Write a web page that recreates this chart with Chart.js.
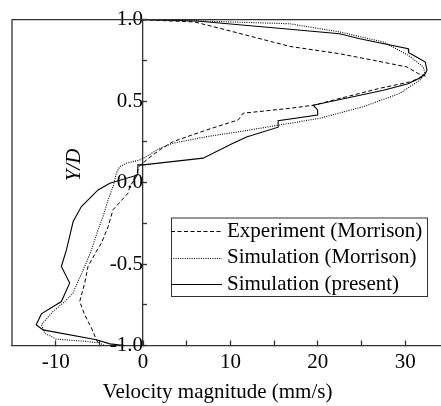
<!DOCTYPE html>
<html><head><meta charset="utf-8">
<script src="https://cdn.jsdelivr.net/npm/chart.js@4"></script>
<style>html,body{margin:0;padding:0;background:#fff;overflow:hidden}#wrap{width:441px;height:406px}</style>
</head><body><div id="wrap"><canvas id="c" width="441" height="406"></canvas></div>
<script>
const seriesNames = ['Experiment (Morrison)', 'Simulation (Morrison)', 'Simulation (present)'];
// Experiment (Morrison): Y/D and velocity (mm/s)
const expY = [1.0, 0.986, 0.947, 0.836, 0.791, 0.751, 0.710, 0.669, 0.655, 0.618, 0.579, 0.475, 0.456, 0.426, 0.385, 0.323, 0.252, 0.201, 0.139, 0.098, 0.037, -0.025, -0.065, -0.167, -0.270, -0.372, -0.413, -0.515, -0.617, -0.730, -0.812, -0.893, -0.965, -0.996];
const expV = [0, 5.9, 8.8, 16.8, 22.5, 26.35, 30.2, 31.5, 32.3, 30.55, 27.1, 19.5, 16.8, 11.45, 10.9, 7.26, 3.44, 1.9, 0.39, -0.5, -0.76, -1.52, -1.72, -3.44, -4.0, -4.77, -5.25, -6.3, -6.68, -7.25, -6.68, -5.9, -5.34, -4.96];
// Simulation (Morrison)
const simY = [1.0, 1.0, 0.975, 0.925, 0.863, 0.782, 0.710, 0.669, 0.630, 0.548, 0.466, 0.395, 0.354, 0.313, 0.282, 0.242, 0.211, 0.160, 0.139, 0.119, 0.098, 0.058, -0.025, -0.106, -0.209, -0.290, -0.413, -0.515, -0.607, -0.679, -0.730, -0.791, -0.873, -0.924, -0.961, -0.975, -0.985, -1.0];
const simV = [0, 1.9, 16.8, 22.5, 27.5, 30.35, 32.07, 32.27, 31.7, 29.4, 25.2, 20.24, 15.66, 11.08, 7.26, 3.44, 1.91, 0.39, -0.38, -1.9, -2.67, -3.05, -3.44, -4.0, -4.58, -5.15, -5.9, -6.68, -7.45, -8.02, -8.97, -10.3, -11.64, -11.26, -9.92, -6.48, -4.96, -4.39];
// Simulation (present)
const preY = [1.0, 0.992, 0.941, 0.914, 0.883, 0.822, 0.798, 0.771, 0.740, 0.690, 0.669, 0.638, 0.607, 0.567, 0.475, 0.446, 0.415, 0.380, 0.340, 0.280, 0.242, 0.150, 0.109, 0.109, 0.047, -0.004, -0.045, -0.147, -0.239, -0.413, -0.515, -0.617, -0.730, -0.806, -0.873, -0.904, -0.965, -0.990, -1.0];
const preV = [0, 6.15, 16.8, 22.5, 24.8, 30.35, 30.4, 31.3, 32.3, 32.5, 32.3, 31.5, 30.35, 27.5, 19.47, 19.98, 19.98, 15.46, 15.46, 11.84, 10.3, 6.87, 0, -0.6, -0.6, -3.8, -5.15, -7.06, -8.0, -8.77, -9.35, -8.4, -9.35, -11.64, -12.23, -11.45, -5.34, -3.8, -2.1];

const xTickValues = [-10, -5, 0, 5, 10, 15, 20, 25, 30];
const yTickValues = [-1, -0.75, -0.5, -0.25, 0, 0.25, 0.5, 0.75, 1];
const xTitle = 'Velocity magnitude (mm/s)';
const yTitle = 'Y/D';

const FONT = 'Liberation Serif';
const pts = (vs, ys) => ys.map((y, i) => ({x: vs[i], y: y}));

const decor = {
  id: 'decor',
  afterDraw(chart) {
    const c = chart.ctx, a = chart.chartArea;
    c.save();
    c.strokeStyle = '#333'; c.lineWidth = 1.3; c.setLineDash([]);
    c.beginPath(); c.moveTo(a.left, a.bottom); c.lineTo(a.left, a.top); c.lineTo(a.right, a.top); c.stroke();
    c.fillStyle = '#000';
    // x title
    c.font = '21px "' + FONT + '"'; c.textAlign = 'center'; c.textBaseline = 'middle';
    c.fillText(xTitle, 217.5, 392);
    // y title
    c.save(); c.translate(74, 165); c.rotate(-Math.PI / 2);
    c.font = 'italic 21px "' + FONT + '"'; c.fillText(yTitle, 0, 0); c.restore();
    // legend
    const bx = 171, by = 217.5, bw = 256, bh = 78.5;
    c.lineWidth = 1; c.strokeStyle = '#333';
    c.strokeRect(bx + 0.5, by + 0.5, bw, bh);
    c.textAlign = 'left'; c.font = '21px "' + FONT + '"';
    chart.data.datasets.forEach((ds, i) => {
      const y = 231 + i * 26.5;
      c.strokeStyle = ds.borderColor; c.lineWidth = ds.borderWidth;
      c.setLineDash(ds.borderDash || []);
      c.beginPath(); c.moveTo(bx, Math.round(y) + 0.5); c.lineTo(222, Math.round(y) + 0.5); c.stroke();
      c.setLineDash([]);
      c.fillText(ds.label, 227, y);
    });
    c.restore();
  }
};

new Chart(document.getElementById('c'), {
  type: 'scatter',
  data: { datasets: [
    {label: seriesNames[0], data: pts(expV, expY), showLine: true, borderColor: '#000', borderWidth: 1, borderDash: [4, 2.5], pointRadius: 0, tension: 0, fill: false},
    {label: seriesNames[1], data: pts(simV, simY), showLine: true, borderColor: '#000', borderWidth: 1.1, borderDash: [1, 1.3], pointRadius: 0, tension: 0, fill: false},
    {label: seriesNames[2], data: pts(preV, preY), showLine: true, borderColor: '#000', borderWidth: 1.1, pointRadius: 0, tension: 0, fill: false}
  ]},
  options: {
    responsive: false, animation: false, devicePixelRatio: 1, events: [],
    layout: {padding: {left: 12, top: 19.7, right: 0, bottom: 0}},
    plugins: {legend: {display: false}, tooltip: {enabled: false}},
    scales: {
      x: {
        type: 'linear', position: 'bottom', min: -15, max: 34.1,
        afterBuildTicks: s => { s.ticks = xTickValues.map(v => ({value: v})); },
        afterFit: s => { s.height = 60.5; },
        ticks: {autoSkip: false, maxRotation: 0, padding: 9, color: '#000', font: {family: FONT, size: 21},
          callback: v => (v % 10 === 0 ? String(v) : '')},
        grid: {display: true, drawOnChartArea: false, drawTicks: true, tickLength: -5, tickColor: '#333', tickWidth: 1.3},
        border: {display: true, color: '#333', width: 1.3},
        title: {display: false}
      },
      y: {
        type: 'linear', position: {x: 0}, min: -1, max: 1,
        afterBuildTicks: s => { s.ticks = yTickValues.map(v => ({value: v})); },
        afterFit: s => { s.paddingTop = 0; s.paddingBottom = 0; },
        ticks: {autoSkip: false, padding: 11.5, color: '#000', font: {family: FONT, size: 21},
          callback: v => (Math.abs(v * 2 - Math.round(v * 2)) < 1e-9 ? v.toFixed(1) : '')},
        grid: {display: true, drawOnChartArea: false, drawTicks: true, tickLength: -5, tickColor: '#333', tickWidth: 1.3},
        border: {display: true, color: '#333', width: 1.3},
        title: {display: false}
      }
    }
  },
  plugins: [decor]
});
</script>
</body></html>
